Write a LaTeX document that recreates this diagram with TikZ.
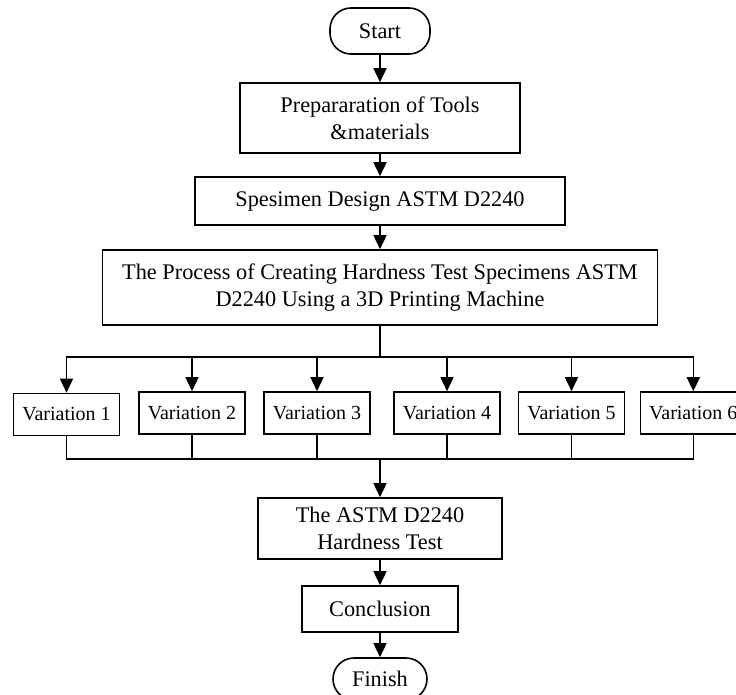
\documentclass[tikz,border=0pt]{standalone}
\usepackage{fontspec}
\setmainfont{Liberation Serif}
\usetikzlibrary{arrows.meta}
\begin{document}
\begin{tikzpicture}[x=1pt,y=-1pt,
  line width=1.6pt,
  box/.style={draw, inner sep=0pt, align=center, font=\fontsize{22.3}{27}\selectfont},
  term/.style={box, rounded corners=21pt},
  var/.style={draw, inner sep=0pt, minimum width=106pt, minimum height=42pt, font=\fontsize{20}{24}\selectfont},
  arr/.style={-{Triangle[width=13pt,length=14pt]}},
  ln/.style={line cap=rect}]
\clip (0,0) rectangle (736,695);
\fill[white] (0,0) rectangle (736,695);
\node[term, minimum width=100pt, minimum height=46pt] (start) at (380,31) {Start};
\node[box, minimum width=280pt, minimum height=70pt] (b1) at (380,118) {Prepararation of Tools\\\&materials};
\node[box, minimum width=370pt, minimum height=48pt] (b2) at (380,201) {Spesimen Design ASTM D2240};
\node[box, minimum width=555pt, minimum height=75pt] (b3) at (380,287.5) {The Process of Creating Hardness Test Specimens ASTM\\D2240 Using a 3D Printing Machine};
\node[var] (v1) at (66.5,414.5) {Variation 1};
\node[var] (v2) at (192,413) {Variation 2};
\node[var] (v3) at (317,413) {Variation 3};
\node[var] (v4) at (447,413) {Variation 4};
\node[var] (v5) at (571.5,413) {Variation 5};
\node[var] (v6) at (693.3,413) {Variation 6};
\node[box, minimum width=244pt, minimum height=61pt] (b4) at (380,528.5) {The ASTM D2240\\Hardness Test};
\node[box, minimum width=156pt, minimum height=46pt] (b5) at (380,609) {Conclusion};
\node[term, minimum width=94pt, minimum height=42pt] (fin) at (380,679) {Finish};
\coordinate (ht) at (380,357);
\coordinate (hb) at (380,459);
\draw[arr] (start) -- (b1);
\draw[arr] (b1) -- (b2);
\draw[arr] (b2) -- (b3);
\draw (b3) -- (ht);
\draw[ln] (v1 |- ht) -- (v6 |- ht);
\foreach \v in {v1,v2,v3,v4,v5,v6}{\draw[arr] (\v |- ht) -- (\v);}
\foreach \v in {v1,v2,v3,v4,v5,v6}{\draw (\v) -- (\v |- hb);}
\draw[ln] (v1 |- hb) -- (v6 |- hb);
\draw[arr] (hb) -- (b4);
\draw[arr] (b4) -- (b5);
\draw[arr] (b5) -- (fin);
\end{tikzpicture}
\end{document}
